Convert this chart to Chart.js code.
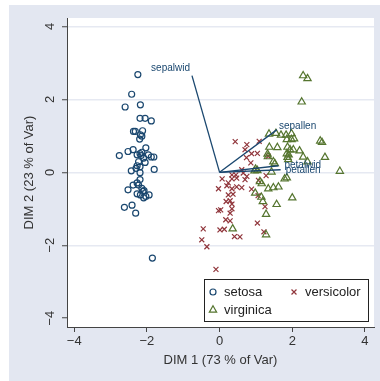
<!DOCTYPE html>
<html>
<head>
<meta charset="utf-8">
<script src="https://cdn.jsdelivr.net/npm/chart.js@4.4.0/dist/chart.umd.min.js"></script>
<style>
  html, body { margin: 0; padding: 0; background: #fff; }
  canvas { display: block; }
</style>
</head>
<body>
<canvas id="myChart" width="380" height="381"></canvas>
<script>
// PCA scores
const setosaX = [-2.25, -2.42, -2.60, -2.18, -2.19, -2.05, -1.88, -2.37, -2.32, -2.12,
                 -2.18, -2.20, -2.14, -2.76, -2.52, -2.38, -2.03, -2.27, -2.19, -2.14,
                 -2.16, -2.09, -2.05, -1.96, -1.88, -1.81, -2.23, -2.27, -2.19, -2.43,
                 -2.30, -2.19, -1.80, -2.19, -2.38, -2.27, -2.23, -2.52, -2.14, -2.08,
                 -2.27, -2.18, -2.09, -2.03, -1.94, -2.62, -2.41, -2.31, -1.85, -2.11];
const setosaY = [2.68, 2.14, 1.79, 1.85, 1.48, 1.48, 1.41, 1.12, 1.12, 1.14,
                 1.03, 0.91, 0.99, 0.46, 0.57, 0.62, 0.67, 0.48, 0.51, 0.55,
                 0.46, 0.39, 0.27, 0.48, 0.42, 0.42, 0.29, 0.18, 0.15, 0.04,
                 0.11, -0.01, 0.08, -0.20, -0.35, -0.29, -0.35, -0.48, -0.44, -0.50,
                 -0.59, -0.62, -0.70, -0.66, -0.62, -0.96, -0.90, -1.12, -2.35, -0.52];

const versicolorX = [0.43, 0.75, 1.09, 0.70, 0.88, 1.04, 0.74, 0.86, 0.61, 0.65,
                     0.34, 0.45, 0.07, 0.34, 0.47, 0.70, 0.75, 0.24, 0.20, -0.03,
                     0.34, 0.47, 0.61, 0.24, 0.37, 0.18, 0.29, 0.34, -0.03, 0.03,
                     0.34, 0.29, 0.17, 0.29, -0.45, 0.01, 0.13, -0.49, -0.35, 0.41,
                     0.56, 1.04, 1.22, -0.10, 1.25, 1.28, 1.07, 0.88, 1.34, 1.06];
const versicolorY = [0.84, 0.76, 0.85, 0.62, 0.51, 0.52, 0.40, 0.26, 0.07, -0.02,
                     -0.07, -0.07, -0.18, -0.18, -0.16, -0.20, -0.11, -0.29, -0.37, -0.45,
                     -0.45, -0.40, -0.42, -0.62, -0.60, -0.80, -0.78, -0.87, -1.05, -1.03,
                     -1.00, -1.12, -1.30, -1.33, -1.55, -1.58, -1.56, -1.85, -2.04, -1.76,
                     -1.77, -1.39, -1.63, -2.66, -0.94, -0.09, -0.22, -0.46, 0.44, -0.64];

const virginicaX = [2.30, 2.42, 2.26, 1.36, 1.55, 1.69, 1.83, 1.98, 1.85, 1.98,
                    2.05, 2.77, 2.82, 1.37, 1.59, 1.87, 1.94, 2.03, 2.20, 1.85,
                    1.87, 1.89, 1.33, 2.30, 2.42, 2.90, 1.48, 1.52, 3.31, 0.99,
                    0.96, 1.04, 1.43, 1.85, 1.79, 1.11, 1.16, 1.34, 1.48, 1.62,
                    0.98, 1.15, 1.19, 1.57, 2.00, 1.28, 0.36, 1.28, 1.90, 1.32];
const virginicaY = [2.65, 2.57, 1.93, 1.05, 1.07, 1.02, 1.02, 1.06, 0.90, 0.90,
                    0.92, 0.86, 0.82, 0.69, 0.68, 0.69, 0.62, 0.62, 0.59, 0.51,
                    0.41, 0.35, 0.43, 0.42, 0.29, 0.41, 0.29, 0.24, 0.03, 0.09,
                    0.04, 0.05, 0.01, -0.15, -0.18, -0.25, -0.31, -0.45, -0.42, -0.40,
                    -0.57, -0.68, -0.80, -0.88, -0.70, -1.15, -1.55, -1.71, 0.48, 0.50];

// variable loadings (arrow tips)
const varNames = ['sepallen', 'sepalwid', 'petallen', 'petalwid'];
const loadX = [1.58, -0.76, 1.68, 1.62];
const loadY = [1.17, 2.65, 0.07, 0.18];

const xTicks = [-4, -2, 0, 2, 4];
const yTicks = [-4, -2, 0, 2, 4];
const xTitle = 'DIM 1 (73 % of Var)';
const yTitle = 'DIM 2 (23 % of Var)';

const navy = '#1a476f';
const maroon = '#90353b';
const green = '#55752f';
const axisColor = '#444444';
const textColor = '#333333';
const gridColor = '#e6e9f2';
const bgColor = '#e3e7f1';
const fontFamily = "'Liberation Sans', Arial, sans-serif";

Chart.defaults.font.family = fontFamily;
Chart.defaults.font.size = 13;

function fmt(v) {
    return v < 0 ? '\u2212' + Math.abs(v) : String(v);
}

function pts(xs, ys) {
    return xs.map((x, i) => ({ x: x, y: ys[i] }));
}

const arrowSets = varNames.map((n, i) => ({
    label: n,
    data: [{ x: 0, y: 0 }, { x: loadX[i], y: loadY[i] }],
    showLine: true,
    borderColor: navy,
    borderWidth: 1.3,
    pointRadius: 0,
    fill: false,
}));

const bgPlugin = {
    id: 'bg',
    beforeDraw(chart) {
        const ctx = chart.ctx, a = chart.chartArea;
        ctx.save();
        ctx.fillStyle = '#fff';
        ctx.fillRect(0, 0, chart.width, chart.height);
        ctx.fillStyle = bgColor;
        ctx.fillRect(9, 5, chart.width - 9, chart.height - 5);
        ctx.fillStyle = '#fff';
        ctx.fillRect(a.left, a.top, a.right - a.left, a.bottom - a.top);
        ctx.restore();
    }
};

// rotated y tick labels, Stata style
const yLabelPlugin = {
    id: 'yLabels',
    afterDraw(chart) {
        const ctx = chart.ctx, s = chart.scales.y;
        ctx.save();
        ctx.font = '13px ' + fontFamily;
        ctx.fillStyle = textColor;
        ctx.textAlign = 'center';
        ctx.textBaseline = 'middle';
        s.ticks.forEach(t => {
            const py = s.getPixelForValue(t.value);
            ctx.save();
            ctx.translate(s.right - 17, py);
            ctx.rotate(-Math.PI / 2);
            ctx.fillText(fmt(t.value), 0, 0);
            ctx.restore();
        });
        ctx.restore();
    }
};

const arrowLabelPlugin = {
    id: 'arrowLabels',
    afterDatasetsDraw(chart) {
        const ctx = chart.ctx, sx = chart.scales.x, sy = chart.scales.y;
        const offs = [[2, -3, 'left'], [-2, -7, 'right'], [5, 0, 'left'], [6, -1, 'left']];
        ctx.save();
        ctx.font = '10px ' + fontFamily;
        ctx.fillStyle = navy;
        ctx.textBaseline = 'middle';
        varNames.forEach((n, i) => {
            const px = sx.getPixelForValue(loadX[i]);
            const py = sy.getPixelForValue(loadY[i]);
            ctx.textAlign = offs[i][2];
            ctx.fillText(n, px + offs[i][0], py + offs[i][1]);
        });
        ctx.restore();
    }
};

const legendPlugin = {
    id: 'boxLegend',
    afterDraw(chart) {
        const ctx = chart.ctx, a = chart.chartArea;
        const w = 165, h = 43;
        const x0 = a.right - 5 - w, y0 = a.bottom - 5 - h;
        ctx.save();
        ctx.fillStyle = '#fff';
        ctx.fillRect(x0, y0, w, h);
        ctx.strokeStyle = '#222';
        ctx.lineWidth = 1;
        ctx.strokeRect(x0 + 0.5, y0 + 0.5, w - 1, h - 1);
        const items = [
            { text: 'setosa', color: navy, style: 'circle', r: 3, dx: 9, dy: 13 },
            { text: 'versicolor', color: maroon, style: 'crossRot', r: 3.5, dx: 90, dy: 13 },
            { text: 'virginica', color: green, style: 'triangle', r: 4.2, dx: 9, dy: 31 },
        ];
        ctx.font = '13px ' + fontFamily;
        ctx.textBaseline = 'middle';
        ctx.textAlign = 'left';
        items.forEach(it => {
            ctx.strokeStyle = it.color;
            ctx.fillStyle = 'rgba(0,0,0,0)';
            ctx.lineWidth = 1.2;
            Chart.helpers.drawPoint(ctx, { pointStyle: it.style, radius: it.r, rotation: 0, borderWidth: 1.2 },
                x0 + it.dx, y0 + it.dy);
            ctx.fillStyle = '#222';
            ctx.fillText(it.text, x0 + it.dx + 11, y0 + it.dy);
        });
        ctx.restore();
    }
};

const ctx = document.getElementById('myChart');

new Chart(ctx, {
    type: 'scatter',
    data: {
        datasets: [
            ...arrowSets,
            {
                label: 'virginica',
                data: pts(virginicaX, virginicaY),
                pointStyle: 'triangle',
                pointRadius: 4.2,
                borderColor: green,
                backgroundColor: 'rgba(0,0,0,0)',
                borderWidth: 1.2,
            },
            {
                label: 'versicolor',
                data: pts(versicolorX, versicolorY),
                pointStyle: 'crossRot',
                pointRadius: 3.5,
                borderColor: maroon,
                backgroundColor: maroon,
                borderWidth: 1.2,
            },
            {
                label: 'setosa',
                data: pts(setosaX, setosaY),
                pointStyle: 'circle',
                pointRadius: 3,
                borderColor: navy,
                backgroundColor: 'rgba(0,0,0,0)',
                borderWidth: 1.2,
            },
        ]
    },
    options: {
        responsive: false,
        animation: false,
        events: [],
        layout: { padding: { left: 0, right: 6, top: 18, bottom: 0 } },
        scales: {
            x: {
                type: 'linear',
                position: 'bottom',
                min: -4.2,
                max: 4.25,
                afterBuildTicks: s => { s.ticks = xTicks.map(v => ({ value: v })); },
                afterFit: s => { s.height = 54; },
                grid: {
                    display: true,
                    drawOnChartArea: false,
                    drawTicks: true,
                    tickLength: 5,
                    tickColor: axisColor,
                    tickWidth: 1,
                },
                border: { display: true, color: axisColor, width: 1 },
                ticks: {
                    callback: v => fmt(v),
                    color: textColor,
                    padding: 2,
                    maxRotation: 0,
                    minRotation: 0,
                    font: { size: 13 },
                },
                title: {
                    display: true,
                    text: xTitle,
                    color: textColor,
                    font: { size: 13 },
                    padding: { top: 0, bottom: 13 },
                },
            },
            y: {
                type: 'linear',
                min: -4.24,
                max: 4.23,
                afterBuildTicks: s => { s.ticks = yTicks.map(v => ({ value: v })); },
                afterFit: s => { s.width = 67; },
                grid: {
                    color: c => (c.tick && c.tick.value === -4) ? 'rgba(0,0,0,0)' : gridColor,
                    lineWidth: 1.5,
                    drawTicks: true,
                    tickLength: 5,
                    tickColor: axisColor,
                    tickWidth: 1,
                },
                border: { display: true, color: axisColor, width: 1 },
                ticks: { display: false },
                title: {
                    display: true,
                    text: yTitle,
                    color: textColor,
                    font: { size: 13 },
                    padding: { top: 22, bottom: 0 },
                },
            },
        },
        plugins: {
            legend: { display: false },
            tooltip: { enabled: false },
        },
    },
    plugins: [bgPlugin, yLabelPlugin, arrowLabelPlugin, legendPlugin],
});
</script>
</body>
</html>
